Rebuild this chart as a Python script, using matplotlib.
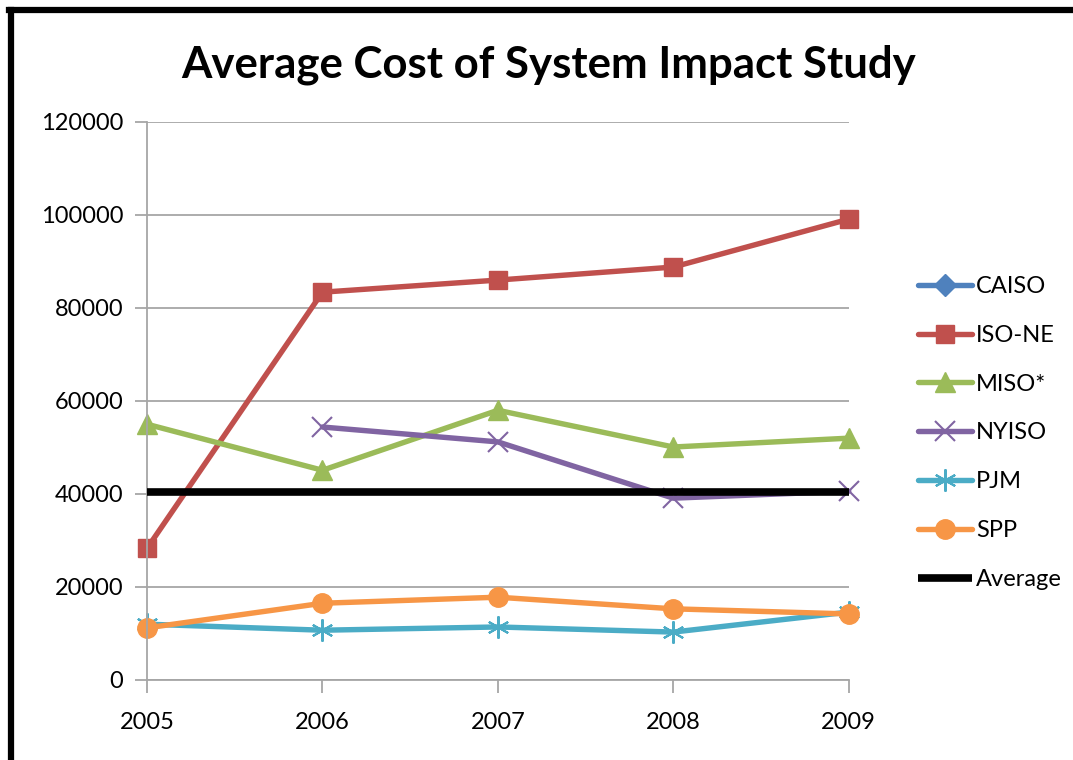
import numpy as np
import matplotlib.pyplot as plt
from matplotlib.lines import Line2D

years = [2005, 2006, 2007, 2008, 2009]
caiso = [np.nan, np.nan, np.nan, np.nan, np.nan]
iso_ne = [28300, 83400, 86000, 88800, 99100]
miso = [55000, 45100, 58000, 50100, 52000]
nyiso = [np.nan, 54400, 51200, 39100, 40600]
pjm = [12000, 10700, 11400, 10300, 14600]
spp = [11200, 16500, 17800, 15300, 14200]
average = [40400, 40400, 40400, 40400, 40400]

plt.rcParams['font.family'] = ['Lato', 'DejaVu Sans']

fig = plt.figure(figsize=(10.73, 7.6), dpi=100)
ax = fig.add_axes([0.137, 0.1053, 0.791 - 0.137, 0.8395 - 0.1053])

# frame around the chart (left and top only, like the cropped Excel chart)
fig.add_artist(Line2D([0.0107, 0.0107], [0, 0.9868], color='black', lw=4.5, transform=fig.transFigure))
fig.add_artist(Line2D([0.0084, 1.0], [0.9868, 0.9868], color='black', lw=4.5, transform=fig.transFigure))

asterisk = (6, 2, 0)
series = [
    ('CAISO', caiso, '#4F81BD', 'D', 11, None),
    ('ISO-NE', iso_ne, '#C0504D', 's', 13, None),
    ('MISO*', miso, '#9BBB59', '^', 14, None),
    ('NYISO', nyiso, '#8064A2', 'x', 14, 1.5),
    ('PJM', pjm, '#4BACC6', asterisk, 16, 1.5),
    ('SPP', spp, '#F79646', 'o', 14, None),
]
for name, vals, col, mk, ms, mew in series:
    kw = dict(color=col, lw=3.9, marker=mk, markersize=ms, label=name,
              solid_capstyle='round', solid_joinstyle='round', clip_on=False)
    if mew is not None:
        kw['markeredgewidth'] = mew
    ax.plot(years, vals, **kw)
ax.plot(years, average, color='black', lw=5.5, label='Average', solid_capstyle='butt', zorder=3)

ax.set_xlim(2005, 2009)
ax.set_ylim(0, 120000)
ax.set_xticks(years)
ax.set_yticks(range(0, 120001, 20000))
ax.grid(axis='y', color='#A6A6A6', lw=1.3)
ax.set_axisbelow(True)
for s in ['top', 'right']:
    ax.spines[s].set_visible(False)
for s in ['left', 'bottom']:
    ax.spines[s].set_color('#A6A6A6')
    ax.spines[s].set_linewidth(1.3)
ax.tick_params(axis='y', length=9, width=1.3, color='#A6A6A6', labelsize=17, pad=8)
ax.tick_params(axis='x', length=9, width=1.3, color='#A6A6A6', labelsize=17, pad=14)

fig.text(0.511, 0.915, 'Average Cost of System Impact Study', ha='center', va='center',
         fontsize=31.5, fontweight='bold')

ax.legend(loc='upper left', bbox_to_anchor=(0.8445, 0.6525), bbox_transform=fig.transFigure,
          frameon=False, fontsize=17, handlelength=2.3, labelspacing=1.18,
          handletextpad=0.15, borderpad=0)

fig.savefig('out.png', dpi=100)
